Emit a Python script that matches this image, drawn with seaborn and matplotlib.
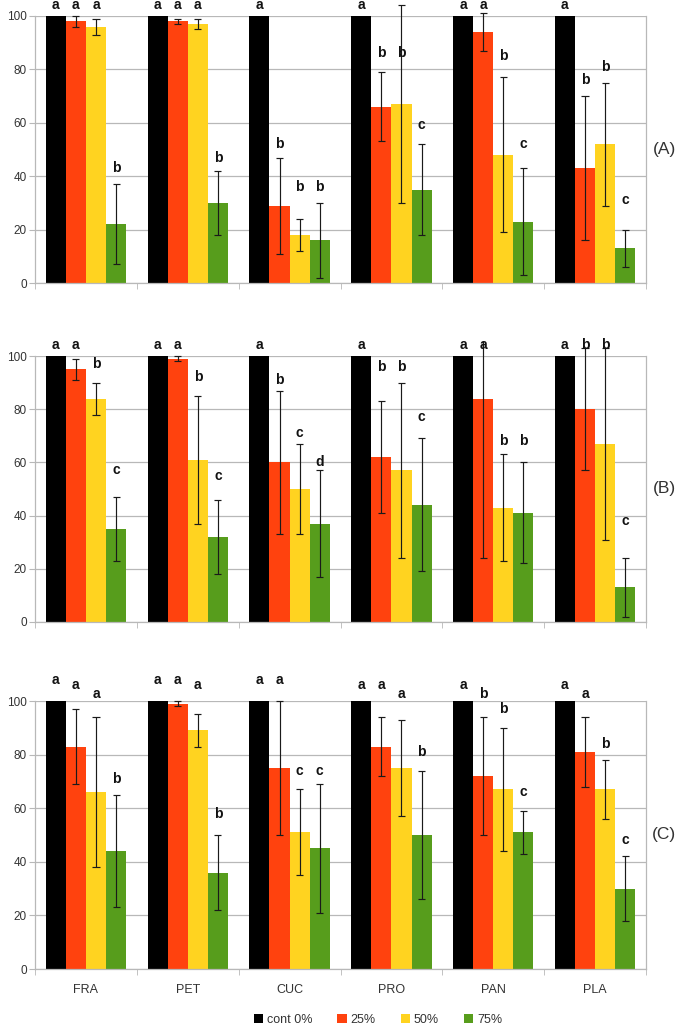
import numpy as np
import pandas as pd
import matplotlib
matplotlib.use("Agg")
import matplotlib.pyplot as plt
import seaborn as sns
from matplotlib.patches import Patch

plants = ["FRA", "PET", "CUC", "PRO", "PAN", "PLA"]
doses = ["cont 0%", "25%", "50%", "75%"]
panel_names = ["(A)", "(B)", "(C)"]

# ---- Panel A ----
a_mean = [[100, 98, 96, 22], [100, 98, 97, 30], [100, 29, 18, 16],
          [100, 66, 67, 35], [100, 94, 48, 23], [100, 43, 52, 13]]
a_err = [[0, 2, 3, 15], [0, 1, 2, 12], [0, 18, 6, 14],
         [0, 13, 37, 17], [0, 7, 29, 20], [0, 27, 23, 7]]
a_letters = [["a", "a", "a", "b"], ["a", "a", "a", "b"], ["a", "b", "b", "b"],
             ["a", "b", "b", "c"], ["a", "a", "b", "c"], ["a", "b", "b", "c"]]
a_letter_y = [[104, 104, 104, 43], [104, 104, 104, 47], [104, 52, 36, 36],
              [104, 86, 86, 59], [104, 104, 85, 52], [104, 76, 81, 31]]

# ---- Panel B ----
b_mean = [[100, 95, 84, 35], [100, 99, 61, 32], [100, 60, 50, 37],
          [100, 62, 57, 44], [100, 84, 43, 41], [100, 80, 67, 13]]
b_err = [[0, 4, 6, 12], [0, 1, 24, 14], [0, 27, 17, 20],
         [0, 21, 33, 25], [0, 60, 20, 19], [0, 23, 36, 11]]
b_letters = [["a", "a", "b", "c"], ["a", "a", "b", "c"], ["a", "b", "c", "d"],
             ["a", "b", "b", "c"], ["a", "a", "b", "b"], ["a", "b", "b", "c"]]
b_letter_y = [[104, 104, 97, 57], [104, 104, 92, 55], [104, 91, 71, 60],
              [104, 96, 96, 77], [104, 104, 68, 68], [104, 104, 104, 38]]

# ---- Panel C ----
c_mean = [[100, 83, 66, 44], [100, 99, 89, 36], [100, 75, 51, 45],
          [100, 83, 75, 50], [100, 72, 67, 51], [100, 81, 67, 30]]
c_err = [[0, 14, 28, 21], [0, 1, 6, 14], [0, 25, 16, 24],
         [0, 11, 18, 24], [0, 22, 23, 8], [0, 13, 11, 12]]
c_letters = [["a", "a", "a", "b"], ["a", "a", "a", "b"], ["a", "a", "c", "c"],
             ["a", "a", "a", "b"], ["a", "b", "b", "c"], ["a", "a", "b", "c"]]
c_letter_y = [[108, 106, 102.5, 71], [108, 108, 106, 58], [108, 108, 74, 74],
              [106, 106, 102.5, 81], [106, 102.5, 97, 66], [106, 102.5, 84, 48]]

yticks = [0, 20, 40, 60, 80, 100]

panels = [
    (a_mean, a_err, a_letters, a_letter_y),
    (b_mean, b_err, b_letters, b_letter_y),
    (c_mean, c_err, c_letters, c_letter_y),
]

colors = ["#000000", "#FF420E", "#FFD320", "#579D1C"]
grid_c = "#b8b8b8"
txt_c = "#333333"

sns.set_style("white")
plt.rcParams["font.family"] = ["Liberation Sans", "DejaVu Sans"]

fig = plt.figure(figsize=(6.85, 10.30), dpi=100)
W, H = 685.0, 1030.0
# (top px, bottom px) of each plot area
rows_px = [(16, 283), (356, 622), (701, 969)]
left_px, right_px = 35, 646

for pi, ((mean, err, letters, lety), (tp, bp)) in enumerate(zip(panels, rows_px)):
    ax = fig.add_axes([left_px / W, 1 - bp / H, (right_px - left_px) / W, (bp - tp) / H])
    recs = []
    for i, p in enumerate(plants):
        for j, d in enumerate(doses):
            recs.append({"plant": p, "dose": d, "value": mean[i][j]})
    df = pd.DataFrame(recs)
    sns.barplot(data=df, x="plant", y="value", hue="dose", order=plants,
                hue_order=doses, palette=colors, saturation=1, width=0.79,
                errorbar=None, linewidth=0, legend=False, ax=ax, zorder=2)
    ax.set_ylim(0, 100)
    ax.set_xlim(-0.5, 5.5)
    ax.set_xlabel("")
    ax.set_ylabel("")
    ax.set_yticks(yticks)
    ax.yaxis.grid(True, color=grid_c, linewidth=0.9, zorder=0)
    ax.set_axisbelow(True)
    for s in ["left", "bottom", "right"]:
        ax.spines[s].set_visible(True)
        ax.spines[s].set_color(grid_c)
        ax.spines[s].set_linewidth(0.9)
    ax.spines["top"].set_visible(False)
    ax.tick_params(axis="y", which="major", length=4, color=grid_c,
                   labelsize=8.5, labelcolor=txt_c, pad=2, left=True)
    ax.set_xticks(np.arange(len(plants)))
    ax.set_xticks(np.arange(-0.5, len(plants), 1.0), minor=True)
    ax.tick_params(axis="x", which="major", length=0, labelsize=9,
                   labelcolor=txt_c, pad=11)
    ax.tick_params(axis="x", which="minor", length=4, color=grid_c, bottom=True)
    if pi < 2:
        ax.set_xticklabels([])
    else:
        ax.set_xticklabels(plants)

    for j, cont in enumerate(ax.containers):
        for i, bar in enumerate(cont):
            xc = bar.get_x() + bar.get_width() / 2
            m = mean[i][j]
            e = err[i][j]
            if e > 0:
                lo = m - e
                hi = m + e
                top = min(hi, 105.5)
                ax.vlines(xc, lo, top, color="#1a1a1a", linewidth=0.85,
                          zorder=4, clip_on=False)
                ax.hlines(lo, xc - 0.035, xc + 0.035, color="#1a1a1a",
                          linewidth=0.85, zorder=4, clip_on=False)
                if hi <= 105.5:
                    ax.hlines(hi, xc - 0.035, xc + 0.035, color="#1a1a1a",
                              linewidth=0.85, zorder=4, clip_on=False)
            ax.text(xc, lety[i][j], letters[i][j], ha="center", va="center",
                    fontsize=10, fontweight="bold", color="#111111",
                    clip_on=False, zorder=5)

    ymid = 1 - ((tp + bp) / 2) / H
    fig.text(664 / W, ymid, panel_names[pi], ha="center", va="center",
             fontsize=12.5, color=txt_c)

handles = [Patch(facecolor=c, edgecolor="none") for c in colors]
fig.legend(handles, doses, loc="center", bbox_to_anchor=(378 / W, 1 - 1020 / H),
           ncol=4, frameon=False, fontsize=9, handlelength=0.75,
           handleheight=0.75, handletextpad=0.3, columnspacing=2.0,
           labelcolor=txt_c)

fig.savefig("out.png", dpi=100)
